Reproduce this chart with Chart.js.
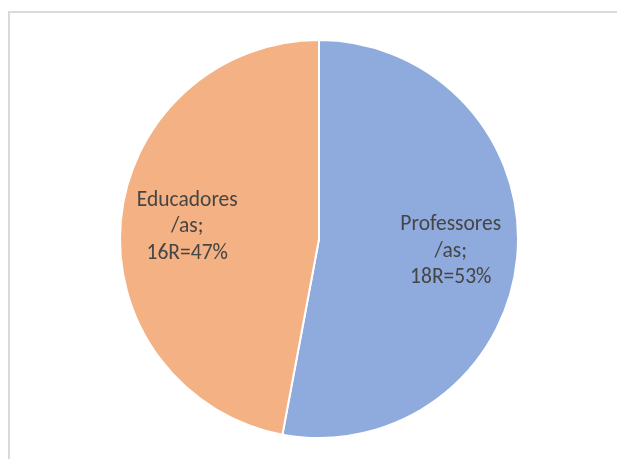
<!DOCTYPE html>
<html>
<head>
<meta charset="utf-8">
<script src="https://cdn.jsdelivr.net/npm/chart.js@4"></script>
<style>
html,body{margin:0;padding:0;background:#fff;}
#wrap{position:relative;width:617px;height:459px;overflow:hidden;}
#frame{position:absolute;left:8px;top:11px;width:700px;height:600px;border-left:2px solid #d9d9d9;border-top:2px solid #d9d9d9;}
canvas{position:absolute;left:0;top:0;}
</style>
</head>
<body>
<div id="wrap">
<div id="frame"></div>
<canvas id="c" width="617" height="459"></canvas>
</div>
<script>
const categories = ["Professores/as", "Educadores/as"];
const values = [18, 16];
const percents = ["53%", "47%"];
const labelLines = [["Professores", "/as;", "18R=53%"], ["Educadores", "/as;", "16R=47%"]];
const colors = ["#8FAADC", "#F4B183"];

const labelPlugin = {
  id: 'sliceLabels',
  afterDatasetsDraw(chart) {
    const ctx = chart.ctx;
    const meta = chart.getDatasetMeta(0);
    ctx.save();
    ctx.font = '21.5px Carlito, "Open Sans", "Liberation Sans", sans-serif';
    ctx.fillStyle = '#454545';
    ctx.textAlign = 'center';
    ctx.textBaseline = 'middle';
    meta.data.forEach((arc, i) => {
      const mid = (arc.startAngle + arc.endAngle) / 2;
      const d = arc.outerRadius * 0.665;
      const cx = arc.x + Math.cos(mid) * d;
      const cy = arc.y + Math.sin(mid) * d;
      const lines = labelLines[i];
      const lh = 26.5;
      lines.forEach((t, j) => {
        ctx.fillText(t, cx, cy + (j - (lines.length - 1) / 2) * lh);
      });
    });
    ctx.restore();
  }
};

new Chart(document.getElementById('c'), {
  type: 'pie',
  data: {
    labels: categories,
    datasets: [{
      data: values,
      backgroundColor: colors,
      borderColor: '#ffffff',
      borderWidth: 2
    }]
  },
  options: {
    responsive: false,
    animation: false,
    layout: { padding: { top: 39, bottom: 20, left: 119, right: 98 } },
    plugins: { legend: { display: false }, tooltip: { enabled: false } }
  },
  plugins: [labelPlugin]
});
</script>
</body>
</html>
